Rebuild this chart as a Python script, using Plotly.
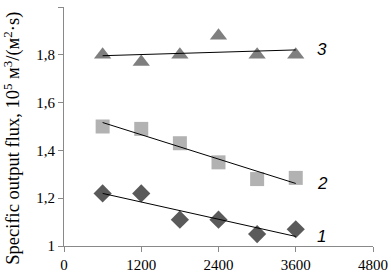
import numpy as np
import plotly.graph_objects as go

time_s = [600, 1200, 1800, 2400, 3000, 3600]
flux_3 = [1.80, 1.77, 1.80, 1.88, 1.80, 1.80]
flux_2 = [1.50, 1.49, 1.43, 1.35, 1.28, 1.285]
flux_1 = [1.22, 1.22, 1.11, 1.11, 1.05, 1.07]
labels = ["3", "2", "1"]
y_ticks = [1, 1.2, 1.4, 1.6, 1.8, 2]
y_ticktext = ["1", "1,2", "1,4", "1,6", "1,8", "2"]
x_ticks = [0, 1200, 2400, 3600, 4800]
y_title = "Specific output flux, 10<sup>5</sup> м<sup>3</sup>/(м<sup>2</sup>·s)"

series = [
    (flux_3, "triangle-up", "#7f7f7f", 15),
    (flux_2, "square", "#b2b2b2", 14),
    (flux_1, "diamond", "#5a5a5a", 14),
]

fig = go.Figure()
for vals, sym, col, sz in series:
    fig.add_trace(go.Scatter(x=time_s, y=vals, mode="markers",
                             marker=dict(symbol=sym, color=col, size=sz),
                             showlegend=False))
for (vals, _, _, _), lab in zip(series, labels):
    k, b = np.polyfit(time_s, vals, 1)
    xs = [time_s[0], time_s[-1]]
    ys = [k * x + b for x in xs]
    fig.add_trace(go.Scatter(x=xs, y=ys, mode="lines",
                             line=dict(color="black", width=1), showlegend=False))
    fig.add_annotation(x=3900, y=ys[-1], text="<i>" + lab + "</i>", showarrow=False,
                       font=dict(family="Liberation Sans", size=17, color="black"),
                       xanchor="left", yanchor="middle")

fig.add_annotation(xref="paper", yref="paper", x=-0.166, y=0.452, text=y_title,
                   textangle=-90, showarrow=False, xanchor="center", yanchor="middle",
                   font=dict(family="Liberation Serif", size=18.5, color="black"))

axis_common = dict(showgrid=False, zeroline=False, showline=True,
                   linecolor="#898989", linewidth=1, ticks="outside",
                   tickcolor="#898989", ticklen=5, automargin=False,
                   tickfont=dict(family="Liberation Serif", size=15, color="black"))
fig.update_xaxes(range=[0, 4800], tickvals=x_ticks, **axis_common)
fig.update_yaxes(range=[1, 2], tickvals=y_ticks, ticktext=y_ticktext, **axis_common)
fig.update_layout(width=391, height=275, separators=", ",
                  margin=dict(l=64, r=18, t=7, b=29),
                  plot_bgcolor="white", paper_bgcolor="white")
fig.write_html("out.html", config={"displayModeBar": False},
               post_script="document.body.style.margin='0';document.body.style.overflow='hidden';")
